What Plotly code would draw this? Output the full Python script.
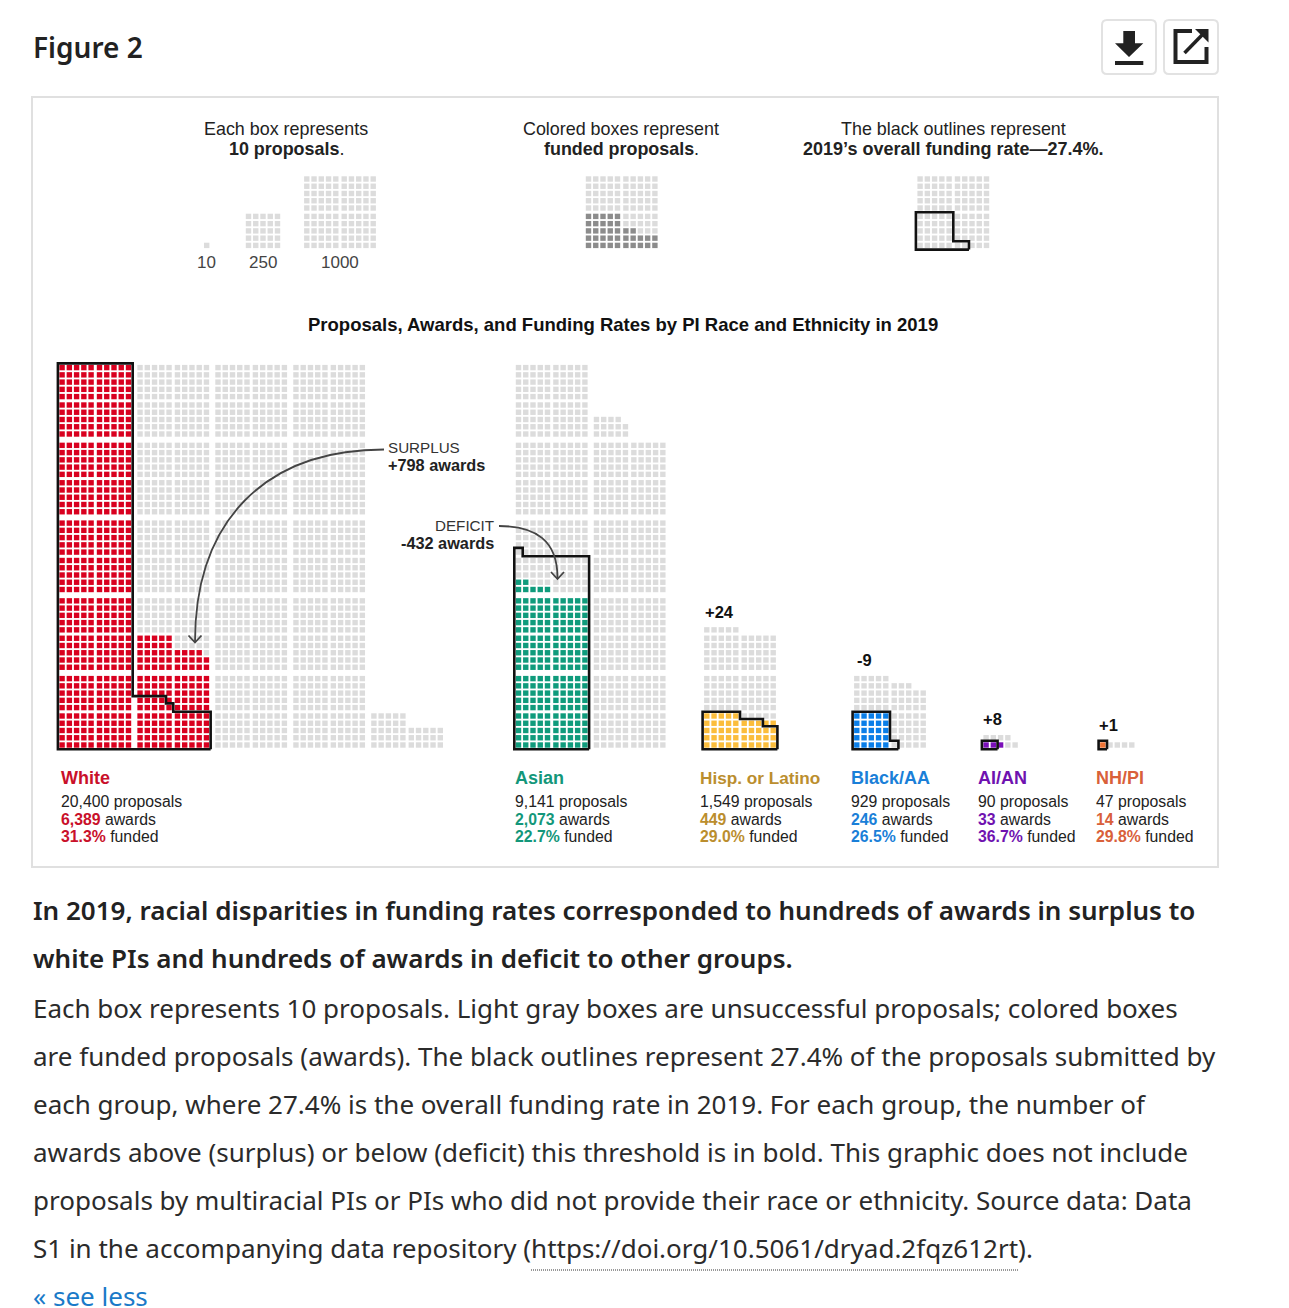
import plotly.graph_objects as go

# ---------- data ----------
groups = ["White", "Asian", "Hisp. or Latino", "Black/AA", "AI/AN", "NH/PI"]
proposals = [20400, 9141, 1549, 929, 90, 47]
awards = [6389, 2073, 449, 246, 33, 14]
funded_pct = [31.3, 22.7, 29.0, 26.5, 36.7, 29.8]
outline_boxes = [559, 251, 43, 26, 2, 1]
delta_labels = ["", "", "+24", "-9", "+8", "+1"]
key_sizes = [10, 250, 1000]
key_funded = 370
key_outline = 270
PROPOSALS_PER_BOX = 10

# ---------- layout constants ----------
colors = ["#d9001f", "#0f9b7c", "#fbbd3c", "#0a7ee8", "#7a0fb8", "#ee7335"]
text_colors = ["#c9102a", "#13977a", "#bb8e2e", "#1a7fd8", "#6f12b0", "#d9603a"]
name_sizes = [18, 18, 17.2, 18, 18, 18]
GREY = "#dcdcdc"
col_x = [59.4, 515.8, 704.1, 854.1, 983.4, 1100.1]
label_x = [61, 515, 700, 851, 978, 1096]
BASE_Y = 747.7
KEY_BASE_Y = 248.1
BOX = 5.4
PITCH = 7.25
HALF = 37.4
BLOCK_X = 77.95
BLOCK_Y = 77.75
PAD = 1.5
CHART_FONT = "Liberation Sans"
PAGE_FONT = "Noto Sans"

fig = go.Figure()


def cell(n):
    block = n // 100
    quad = (n % 100) // 25
    w = n % 25
    return (block // 5, block % 5, quad % 2, quad // 2, w % 5, w // 5)


def box_left(c, x0):
    return x0 + c[0] * BLOCK_X + c[2] * HALF + c[4] * PITCH


def box_bottom(c, y0):
    return y0 - c[1] * BLOCK_Y - c[3] * HALF - c[5] * PITCH


def grid_ij(c):
    return (c[0] * 10 + c[2] * 5 + c[4], c[1] * 10 + c[3] * 5 + c[5])


def boxes(start, stop, x0, y0, color, name):
    xs, ys = [], []
    for n in range(start, stop):
        c = cell(n)
        xs.append(box_left(c, x0) + BOX / 2)
        ys.append(box_bottom(c, y0) - BOX / 2)
    fig.add_trace(go.Scatter(x=xs, y=ys, mode="markers", name=name, hoverinfo="skip",
                             marker=dict(symbol="square", size=BOX, color=color, line=dict(width=0))))


def outline(count, x0, y0, width=2.6):
    """Trace the boundary of the first `count` boxes as one closed line."""
    cells = {grid_ij(cell(n)): cell(n) for n in range(count)}

    def vx(i, j, left_side):
        c = cells[(i, j)]
        return box_left(c, x0) - PAD if left_side else box_left(c, x0) + BOX + PAD

    def hy(i, j, bottom_side):
        c = cells[(i, j)]
        return box_bottom(c, y0) + PAD if bottom_side else box_bottom(c, y0) - BOX - PAD

    nxt = {}
    for (i, j) in cells:
        if (i, j - 1) not in cells:
            nxt[(i, j)] = ((i + 1, j), "h", hy(i, j, True))
        if (i + 1, j) not in cells:
            nxt[(i + 1, j)] = ((i + 1, j + 1), "v", vx(i, j, False))
        if (i, j + 1) not in cells:
            nxt[(i + 1, j + 1)] = ((i, j + 1), "h", hy(i, j, False))
        if (i - 1, j) not in cells:
            nxt[(i, j + 1)] = ((i, j), "v", vx(i, j, True))
    start = min(nxt)
    edges = []
    p = start
    while True:
        q, kind, val = nxt[p]
        edges.append((kind, val))
        p = q
        if p == start:
            break
    merged = []
    for e in edges:
        if not merged or merged[-1][0] != e[0]:
            merged.append(e)
    if len(merged) > 1 and merged[0][0] == merged[-1][0]:
        merged.pop()
    xs, ys = [], []
    for a, b in zip(merged, merged[1:] + merged[:1]):
        if a[0] == "h":
            xs.append(b[1]); ys.append(a[1])
        else:
            xs.append(a[1]); ys.append(b[1])
    xs.append(xs[0]); ys.append(ys[0])
    fig.add_trace(go.Scatter(x=xs, y=ys, mode="lines", hoverinfo="skip",
                             line=dict(color="#111111", width=width, shape="linear")))


# main waffles
for g, p, a, col, x0, ob in zip(groups, proposals, awards, colors, col_x, outline_boxes):
    n_p = round(p / PROPOSALS_PER_BOX)
    n_a = round(a / PROPOSALS_PER_BOX)
    boxes(0, n_a, x0, BASE_Y, col, g + " awards")
    boxes(n_a, n_p, x0, BASE_Y, GREY, g + " other")
    outline(ob, x0, BASE_Y)

# key waffles
key_x = [204.0, 245.8, 304.1]
for s, x0 in zip(key_sizes, key_x):
    boxes(0, s // PROPOSALS_PER_BOX, x0, KEY_BASE_Y, GREY, "key")
boxes(0, key_funded // PROPOSALS_PER_BOX, 585.8, KEY_BASE_Y, "#8c8c8c", "key funded")
boxes(key_funded // PROPOSALS_PER_BOX, 100, 585.8, KEY_BASE_Y, GREY, "key rest")
boxes(0, 100, 917.4, KEY_BASE_Y, GREY, "key outline")
outline(key_outline // PROPOSALS_PER_BOX, 917.4, KEY_BASE_Y)


def text(x, y, s, size, color="#222222", anchor="left", family=CHART_FONT, weight=None):
    font = dict(family=family, size=size, color=color)
    if weight:
        font["weight"] = weight
    fig.add_annotation(x=x, y=y, xref="x", yref="y", text=s, showarrow=False, xanchor=anchor,
                       yanchor="middle", font=font, borderpad=0, borderwidth=0)


# key text
text(286, 129, "Each box represents", 17.9, anchor="center")
text(286, 148.5, "<b>10 proposals</b>.", 17.9, anchor="center")
text(621, 129, "Colored boxes represent", 17.9, anchor="center")
text(621, 148.5, "<b>funded proposals</b>.", 17.9, anchor="center")
text(953, 129, "The black outlines represent", 17.9, anchor="center")
text(953, 148.5, "<b>2019’s overall funding rate—27.4%.</b>", 18, anchor="center")
for s, x in zip(key_sizes, [206, 262.5, 339.5]):
    text(x, 262, str(s), 17, color="#444444", anchor="center")
text(623, 324.5, "<b>Proposals, Awards, and Funding Rates by PI Race and Ethnicity in 2019</b>", 18.5, color="#111111", anchor="center")

# group labels
for g, p, a, f, tc, x, ns in zip(groups, proposals, awards, funded_pct, text_colors, label_x, name_sizes):
    text(x, 778, f"<b>{g}</b>", ns, color=tc)
    text(x, 801.5, f"{p:,} proposals", 15.8)
    text(x, 819, f'<span style="color:{tc}"><b>{a:,}</b></span> awards', 15.8)
    text(x, 836.5, f'<span style="color:{tc}"><b>{f:.1f}%</b></span> funded', 15.8)

delta_pos = [None, None, (705, 612), (856.5, 660), (983, 719), (1098.5, 725)]
for d, pos in zip(delta_labels, delta_pos):
    if d:
        text(pos[0], pos[1], f"<b>{d}</b>", 16.5, color="#111111")

text(388, 447.5, "SURPLUS", 15.2, color="#333333")
text(388, 465, "<b>+798 awards</b>", 16.3, color="#222222")
text(494, 525, "DEFICIT", 15.2, color="#333333", anchor="right")
text(494, 542.5, "<b>-432 awards</b>", 16.3, color="#222222", anchor="right")

# page text
text(33, 46.5, "Figure 2", 28, family=PAGE_FONT, weight=600)
head_lines = ["In 2019, racial disparities in funding rates corresponded to hundreds of awards in surplus to",
              "white PIs and hundreds of awards in deficit to other groups."]
body_lines = ["Each box represents 10 proposals. Light gray boxes are unsuccessful proposals; colored boxes",
              "are funded proposals (awards). The black outlines represent 27.4% of the proposals submitted by",
              "each group, where 27.4% is the overall funding rate in 2019. For each group, the number of",
              "awards above (surplus) or below (deficit) this threshold is in bold. This graphic does not include",
              "proposals by multiracial PIs or PIs who did not provide their race or ethnicity. Source data: Data",
              "S1 in the accompanying data repository (https://doi.org/10.5061/dryad.2fqz612rt)."]
for i, s in enumerate(head_lines):
    text(33, 910 + 48 * i, s, 26, family=PAGE_FONT, weight=600)
for i, s in enumerate(body_lines):
    text(33, 1008 + 48 * i, s, 26, family=PAGE_FONT, color="#2b2b2b")
text(33, 1296, "« see less", 26, family=PAGE_FONT, color="#1a7ac8")

shapes = []
# frame
shapes.append(dict(type="rect", x0=32, x1=1218, y0=97, y1=867, line=dict(color="#e0e0e0", width=2), fillcolor="rgba(0,0,0,0)", layer="below"))


def rrect(x0, y0, x1, y1, r):
    return (f"M{x0+r},{y0} L{x1-r},{y0} Q{x1},{y0} {x1},{y0+r} L{x1},{y1-r} Q{x1},{y1} {x1-r},{y1} "
            f"L{x0+r},{y1} Q{x0},{y1} {x0},{y1-r} L{x0},{y0+r} Q{x0},{y0} {x0+r},{y0} Z")


for a, b in [(1102, 1156), (1164, 1218)]:
    shapes.append(dict(type="path", path=rrect(a, 20, b, 74, 5), line=dict(color="#e2e2e2", width=2)))
ICON = "#222222"
shapes.append(dict(type="path", path="M1123.3,31 L1135,31 L1135,43.3 L1143.3,43.3 L1129,57 L1115,43.3 L1123.3,43.3 Z",
                   fillcolor=ICON, line=dict(width=0)))
shapes.append(dict(type="rect", x0=1115, x1=1143.3, y0=61, y1=65, fillcolor=ICON, line=dict(width=0)))
shapes.append(dict(type="path", path="M1192,31 L1175.5,31 L1175.5,62 L1206.5,62 L1206.5,47", line=dict(color=ICON, width=4)))
shapes.append(dict(type="path", path="M1184.5,53 L1204,33", line=dict(color=ICON, width=3.5)))
shapes.append(dict(type="path", path="M1195,29 L1208.5,29 L1208.5,42.5 Z", fillcolor=ICON, line=dict(width=0)))
# arrows
ARROW = "#444444"
shapes.append(dict(type="path", path="M384,449.5 C266,449.5 195,520 195,642", line=dict(color=ARROW, width=1.8)))
shapes.append(dict(type="path", path="M188.5,635.5 L195,642.5 L201.5,635.5", line=dict(color=ARROW, width=1.8)))
shapes.append(dict(type="path", path="M499,526 C535,526 558,540 557.5,579", line=dict(color=ARROW, width=1.8)))
shapes.append(dict(type="path", path="M551,572 L557.5,579 L564,572", line=dict(color=ARROW, width=1.8)))
# link underline
shapes.append(dict(type="line", x0=531, x1=1018, y0=1270, y1=1270, line=dict(color="#333333", width=1, dash="1px,1px")))

fig.update_layout(width=1289, height=1308, margin=dict(l=0, r=0, t=0, b=0), autosize=False,
                  paper_bgcolor="white", plot_bgcolor="white", showlegend=False, shapes=shapes,
                  xaxis=dict(range=[0, 1289], visible=False, fixedrange=True),
                  yaxis=dict(range=[1308, 0], visible=False, fixedrange=True))
fig.write_html("out.html", config=dict(displayModeBar=False),
               post_script="document.body.style.margin='0';document.body.style.overflow='hidden';")
